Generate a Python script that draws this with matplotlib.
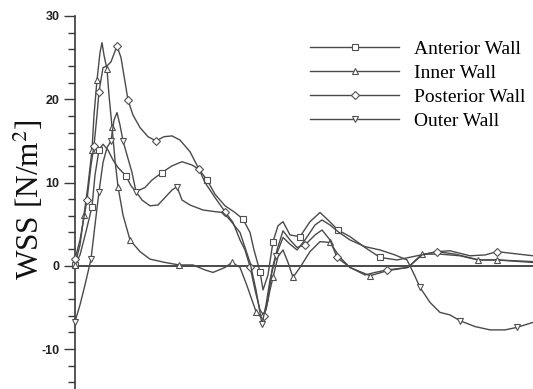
import matplotlib
matplotlib.use("Agg")
import matplotlib.pyplot as plt
from matplotlib.ticker import MultipleLocator
import numpy as np

# ---- data (position along wall, WSS in N/m^2) ----
ant_x = [0, 5, 11, 17, 20, 24, 28, 33, 38, 43, 51, 56, 61, 70, 77, 87, 97, 107, 117, 124, 132, 140, 150, 160, 168,
         175, 179, 185, 188, 193, 198, 203, 208, 215, 225, 235, 245, 253, 263, 275, 290, 305, 322, 342, 362, 380, 404, 422, 458]
ant_y = [0.1, 1.3, 4.1, 7.1, 10.9, 13.9, 14.6, 13.9, 12.7, 11.8, 10.8, 9.6, 8.9, 9.4, 10.3, 11.2, 12.0, 12.5, 12.1, 11.6, 10.3, 8.6, 7.2, 6.4, 5.6,
         4.0, 1.9, -0.7, -2.9, -1.1, 2.9, 4.8, 5.3, 3.7, 3.5, 5.3, 6.4, 5.5, 4.3, 3.5, 2.2, 1.0, 0.7, 1.2, 1.7, 1.4, 0.7, 0.7, 0.5]
ant_m = [0, 3, 5, 10, 15, 20, 24, 27, 30, 34, 38, 41]

inn_x = [0, 5, 9, 13, 17, 19, 22, 25, 27, 29, 32, 34, 37, 40, 43, 48, 55, 65, 75, 90, 104, 118, 130, 138, 150, 157,
         165, 172, 181, 186, 191, 195, 198, 203, 208, 213, 218, 225, 235, 245, 255, 265, 275, 295, 312, 333, 347, 365, 385, 403, 422, 458]
inn_y = [0.1, 2.5, 6.1, 9.7, 13.9, 18.1, 22.3, 25.6, 26.8, 25.3, 23.6, 20.5, 16.7, 12.7, 9.5, 6.1, 3.1, 1.7, 0.8, 0.4, 0.1, 0.1, -0.5, -0.8, -0.2, 0.4,
         -0.2, -2.4, -5.5, -6.2, -5.3, -2.9, -1.4, 1.1, 1.9, 0.4, -1.4, -0.2, 1.7, 2.9, 2.8, 1.0, -0.2, -1.2, -0.6, -0.2, 1.4, 1.4, 1.2, 0.7, 0.7, 0.4]
inn_m = [0, 2, 4, 6, 10, 12, 14, 16, 20, 25, 28, 32, 36, 40, 43, 46, 49, 50]

pos_x = [0, 5, 12, 16, 19, 22, 24, 28, 32, 36, 42, 46, 50, 53, 58, 65, 73, 81, 89, 97, 105, 115, 124, 130, 140, 150,
         158, 165, 170, 175, 180, 185, 189, 193, 197, 202, 208, 215, 222, 230, 240, 247, 255, 262, 275, 290, 300, 312, 333, 347, 362, 375, 395, 410, 422, 458]
pos_y = [0.8, 3.1, 7.9, 12.1, 14.4, 18.1, 20.9, 23.8, 24.0, 24.5, 26.4, 25.0, 22.1, 19.9, 18.1, 16.6, 15.5, 15.0, 15.5, 15.6, 15.1, 13.7, 11.6, 10.0, 8.2, 6.5,
         5.2, 3.1, 1.9, -0.1, -2.9, -5.3, -6.0, -4.1, -0.5, 1.9, 4.2, 3.1, 2.2, 2.5, 3.7, 4.3, 3.1, 1.0, -0.2, -1.1, -0.8, -0.5, -0.2, 1.3, 1.7, 1.8, 1.2, 1.3, 1.7, 1.2]
pos_m = [0, 2, 4, 6, 10, 13, 17, 22, 25, 29, 32, 39, 43, 47, 50, 54]

out_x = [0, 5, 10, 16, 20, 24, 28, 32, 36, 39, 42, 45, 48, 52, 57, 61, 67, 75, 83, 90, 97, 102, 107, 115, 128, 140, 148,
         155, 165, 175, 181, 187, 191, 195, 201, 208, 215, 222, 230, 240, 247, 255, 263, 275, 290, 305, 320, 332, 339, 345,
         355, 365, 375, 385, 400, 415, 430, 442, 458]
out_y = [-6.7, -4.7, -2.3, 0.8, 4.9, 8.9, 12.4, 14.2, 15.0, 17.5, 18.4, 16.9, 15.0, 13.3, 11.2, 8.9, 7.9, 7.2, 7.3, 8.2, 9.1, 9.5, 7.9, 7.3, 6.7, 6.5, 6.4,
         5.5, 4.0, 0.4, -2.9, -7.0, -4.7, -1.7, 1.2, 3.4, 2.6, 1.9, 3.1, 4.9, 5.5, 4.9, 4.1, 3.1, 2.3, 1.9, 1.3, 0.7, -1.0, -2.6,
         -4.4, -5.6, -5.9, -6.6, -7.3, -7.7, -7.7, -7.4, -6.8]
out_m = [0, 3, 5, 8, 12, 15, 21, 31, 34, 49, 53, 57]

labels = ["Anterior Wall", "Inner Wall", "Posterior Wall", "Outer Wall"]
y_ticks = [-10, 0, 10, 20, 30]

plt.rcParams['mathtext.fontset'] = 'stix'
plt.rcParams['axes.unicode_minus'] = False
W, H = 533, 389
fig = plt.figure(figsize=(W / 100, H / 100), dpi=100)
ax = fig.add_axes([75 / W, 0, 458 / W, (H - 16) / H])

lc = '#4a4a4a'
common = dict(color=lc, lw=1.0, markerfacecolor='white',
              markeredgecolor='#505050', markeredgewidth=0.8)
ax.axhline(0, color='#3a3a3a', lw=1.3, zorder=1)
series = [(ant_x, ant_y, ant_m, 's'), (inn_x, inn_y, inn_m, '^'),
          (pos_x, pos_y, pos_m, 'D'), (out_x, out_y, out_m, 'v')]
handles = []
for (xs, ys, ms, mk), lab in zip(series, labels):
    msz = 4.2 if mk == 'D' else 5
    h, = ax.plot(xs, ys, marker=mk, markevery=ms, label=lab, zorder=3, clip_on=False,
                 markersize=msz, **common)
    handles.append(h)

ax.set_xlim(0, 458)
ax.set_ylim(-14.8, 30)
for s in ['top', 'right', 'bottom']:
    ax.spines[s].set_visible(False)
ax.spines['left'].set_color('#3a3a3a')
ax.spines['left'].set_linewidth(1.2)
ax.spines['left'].set_bounds(-14.8, 30)
ax.set_xticks([])
ax.set_yticks(y_ticks)
ax.yaxis.set_minor_locator(MultipleLocator(2))
ax.tick_params(axis='y', which='major', length=8, width=1.0, color='#3a3a3a', pad=3,
               labelsize=9)
ax.tick_params(axis='y', which='minor', length=5, width=1.0, color='#3a3a3a')
for t in ax.get_yticklabels():
    t.set_fontfamily('Liberation Sans')
    t.set_fontweight('bold')
    t.set_color('#222222')

fig.text(39 / W, 1 - 200 / H, 'WSS [N/m$^2$]', rotation=90, rotation_mode='anchor',
         ha='center', va='baseline', fontsize=22.5, family='Liberation Serif', color='#111111')

leg = fig.legend(handles=handles, labels=labels, loc='upper left',
                 bbox_to_anchor=(310 / W, 1 - 40 / H), frameon=False,
                 prop={'family': 'Liberation Serif', 'size': 14},
                 handlelength=4.6, handletextpad=0.75, labelspacing=0.33,
                 borderpad=0, borderaxespad=0, markerscale=1.0)

fig.savefig('out.png', dpi=100)
